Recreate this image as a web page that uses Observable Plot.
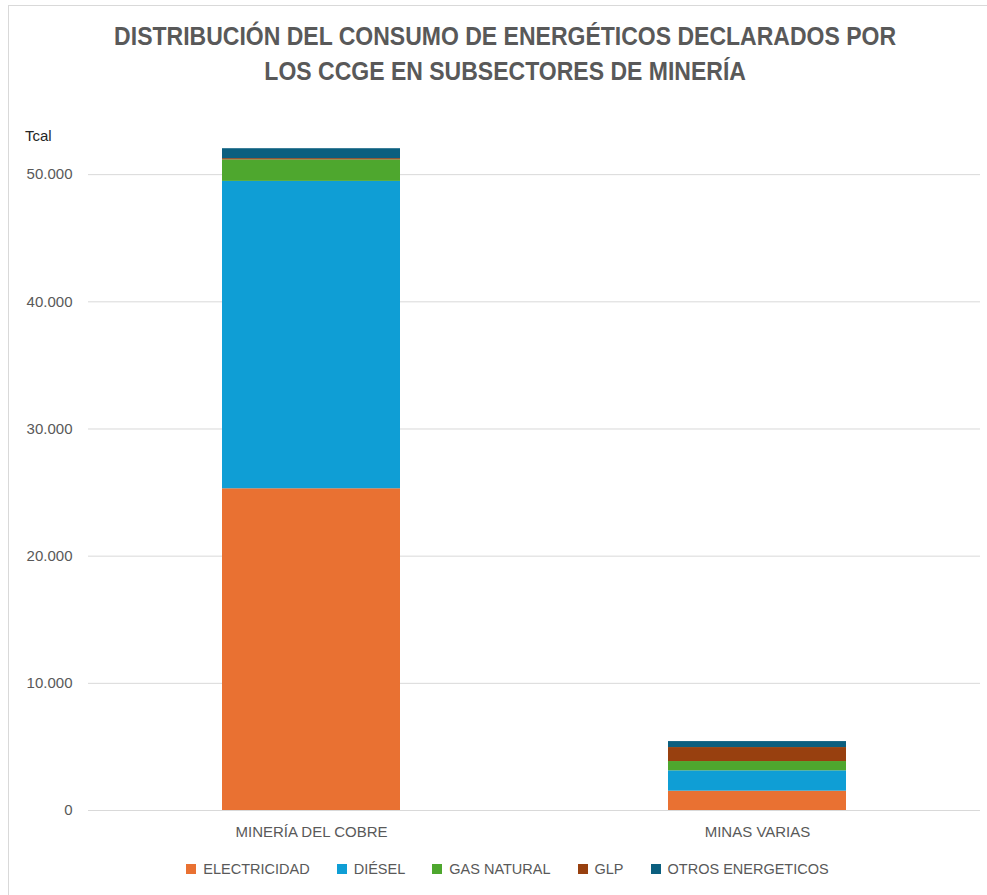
<!DOCTYPE html>
<html><head><meta charset="utf-8">
<script src="https://cdn.jsdelivr.net/npm/d3@7"></script>
<script src="https://cdn.jsdelivr.net/npm/@observablehq/plot@0.6"></script>
<style>
body{margin:0;background:#fff;font-family:"Liberation Sans",Arial,sans-serif;}
#wrap{position:relative;width:987px;height:895px;overflow:hidden;}
#frame{position:absolute;left:8px;top:5px;width:990px;height:900px;border:1px solid #d9d9d9;box-sizing:border-box;}
#title{position:absolute;left:0;top:19px;width:1010px;text-align:center;font-family:"Liberation Sans",sans-serif;font-weight:bold;font-size:26px;line-height:35px;color:#595959;transform:scaleX(0.885);transform-origin:506px 0;}
#unit{position:absolute;left:25px;top:127px;font-size:15px;color:#262626;}
#chart{position:absolute;left:0;top:100px;}
#legend{position:absolute;left:0;top:861px;width:1015px;display:flex;justify-content:center;gap:0 27px;font-size:14.5px;color:#595959;}
#legend span.item{display:flex;align-items:center;}
#legend i{display:inline-block;width:10px;height:10px;margin-right:7px;}
</style></head>
<body><div id="wrap"><div id="frame"></div>
<div id="title">DISTRIBUCIÓN DEL CONSUMO DE ENERGÉTICOS DECLARADOS POR<br>LOS CCGE EN SUBSECTORES DE MINERÍA</div>
<div id="unit">Tcal</div>
<div id="chart"></div>
<div id="legend"></div>
</div>
<script>
const categories = ["MINERÍA DEL COBRE", "MINAS VARIAS"];
const series = ["ELECTRICIDAD", "DIÉSEL", "GAS NATURAL", "GLP", "OTROS ENERGETICOS"];
const electricidad = [25300, 1520];
const diesel = [24170, 1600];
const gasNatural = [1690, 730];
const glp = [100, 1100];
const otros = [780, 470];
const colors = ["#E97132", "#0F9ED5", "#4EA72E", "#98400F", "#0B5F7F"];
const yTicks = [0, 10000, 20000, 30000, 40000, 50000];

const valuesBySeries = [electricidad, diesel, gasNatural, glp, otros];
const data = [];
series.forEach((s, i) => categories.forEach((c, j) => data.push({categoria: c, energetico: s, valor: valuesBySeries[i][j]})));

const fmt = d3.formatLocale({decimal: ",", thousands: ".", grouping: [3], currency: ["", ""]}).format(",d");

const chart = Plot.plot({
  width: 987,
  height: 750,
  marginTop: 36,
  marginBottom: 40,
  marginLeft: 88,
  marginRight: 7,
  style: {fontFamily: '"Liberation Sans", Arial, sans-serif', fontSize: "14.5px", color: "#595959", background: "transparent"},
  x: {domain: categories, paddingInner: 0.6, paddingOuter: 0.3, label: null},
  y: {domain: [0, 53000], label: null},
  color: {domain: series, range: colors},
  marks: [
    Plot.gridY(yTicks, {stroke: "#d9d9d9", strokeOpacity: 1, strokeWidth: 1}),
    Plot.barY(data, Plot.stackY({x: "categoria", y: "valor", fill: "energetico", order: series})),
    Plot.axisY(yTicks, {tickSize: 0, tickPadding: 16, tickFormat: fmt, fontSize: 15, fill: "#595959"}),
    Plot.axisX({tickSize: 0, tickPadding: 16, fontSize: 15, fill: "#595959"})
  ]
});
document.getElementById("chart").appendChild(chart);

const legend = document.getElementById("legend");
series.forEach((s, i) => {
  const item = document.createElement("span");
  item.className = "item";
  const sw = document.createElement("i");
  sw.style.background = colors[i];
  item.appendChild(sw);
  item.appendChild(document.createTextNode(s));
  legend.appendChild(item);
});
</script>
</body></html>
